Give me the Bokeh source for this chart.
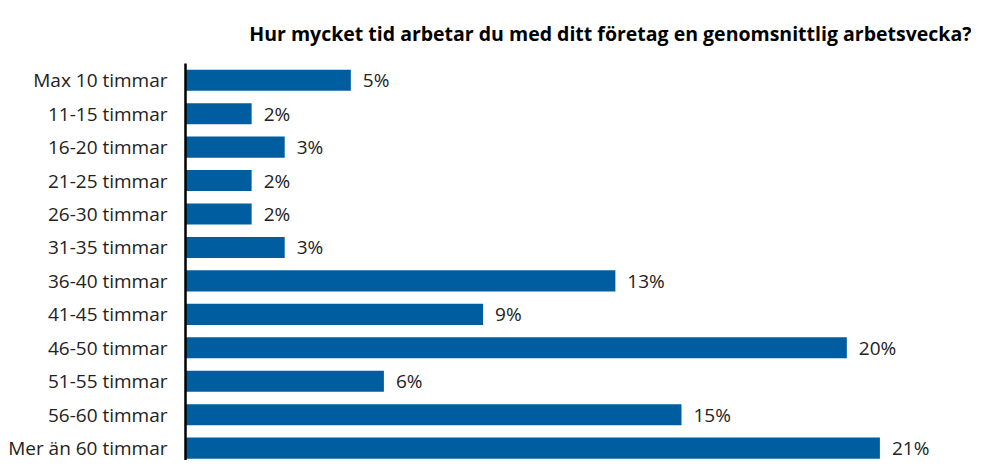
from bokeh.plotting import figure
from bokeh.models import Range1d, FixedTicker, ColumnDataSource
from bokeh.core.properties import value
from bokeh.embed import file_html
from bokeh.resources import INLINE

title = "Hur mycket tid arbetar du med ditt företag en genomsnittlig arbetsvecka?"
categories = ["Max 10 timmar", "11-15 timmar", "16-20 timmar", "21-25 timmar",
              "26-30 timmar", "31-35 timmar", "36-40 timmar", "41-45 timmar",
              "46-50 timmar", "51-55 timmar", "56-60 timmar", "Mer än 60 timmar"]
shares = [5, 2, 3, 2, 2, 3, 13, 9, 20, 6, 15, 21]

BAR = "#005EA0"
FONT = "Open Sans"
TXT = "#222222"

idx = list(range(len(categories)))
src = ColumnDataSource(dict(pos=idx, val=shares, lab=[f"{v}%" for v in shares]))

p = figure(width=971, height=460, output_backend="svg", toolbar_location=None,
           x_range=Range1d(0, 23.77), y_range=Range1d(11.37, -0.5),
           x_axis_location=None, min_border_left=185, min_border_right=0,
           min_border_top=60, min_border_bottom=0)
p.outline_line_color = None
p.grid.visible = False

p.hbar(y="pos", right="val", left=0, height=0.63, source=src,
       fill_color=BAR, line_color=None)
p.text(x="val", y="pos", text="lab", source=src, x_offset=12,
       text_baseline="middle", text_align="left", text_color=TXT,
       text_font=value(FONT), text_font_size="19px")

ax = p.yaxis[0]
ax.ticker = FixedTicker(ticks=idx)
ax.major_label_overrides = {i: c for i, c in zip(idx, categories)}
ax.major_tick_line_color = None
ax.minor_tick_line_color = None
ax.axis_line_color = "#000000"
ax.axis_line_width = 2.5
ax.major_label_standoff = 12
ax.major_label_text_font = FONT
ax.major_label_text_font_size = "19px"
ax.major_label_text_color = TXT
ax.major_label_text_font_style = "normal"

p.title.text = title
p.title.align = "right"
p.title.text_font = FONT
p.title.text_font_size = "19.5px"
p.title.text_font_style = "bold"
p.title.text_color = "#000000"
p.title.standoff = 34

open("out.html", "w").write(file_html(p, INLINE))
